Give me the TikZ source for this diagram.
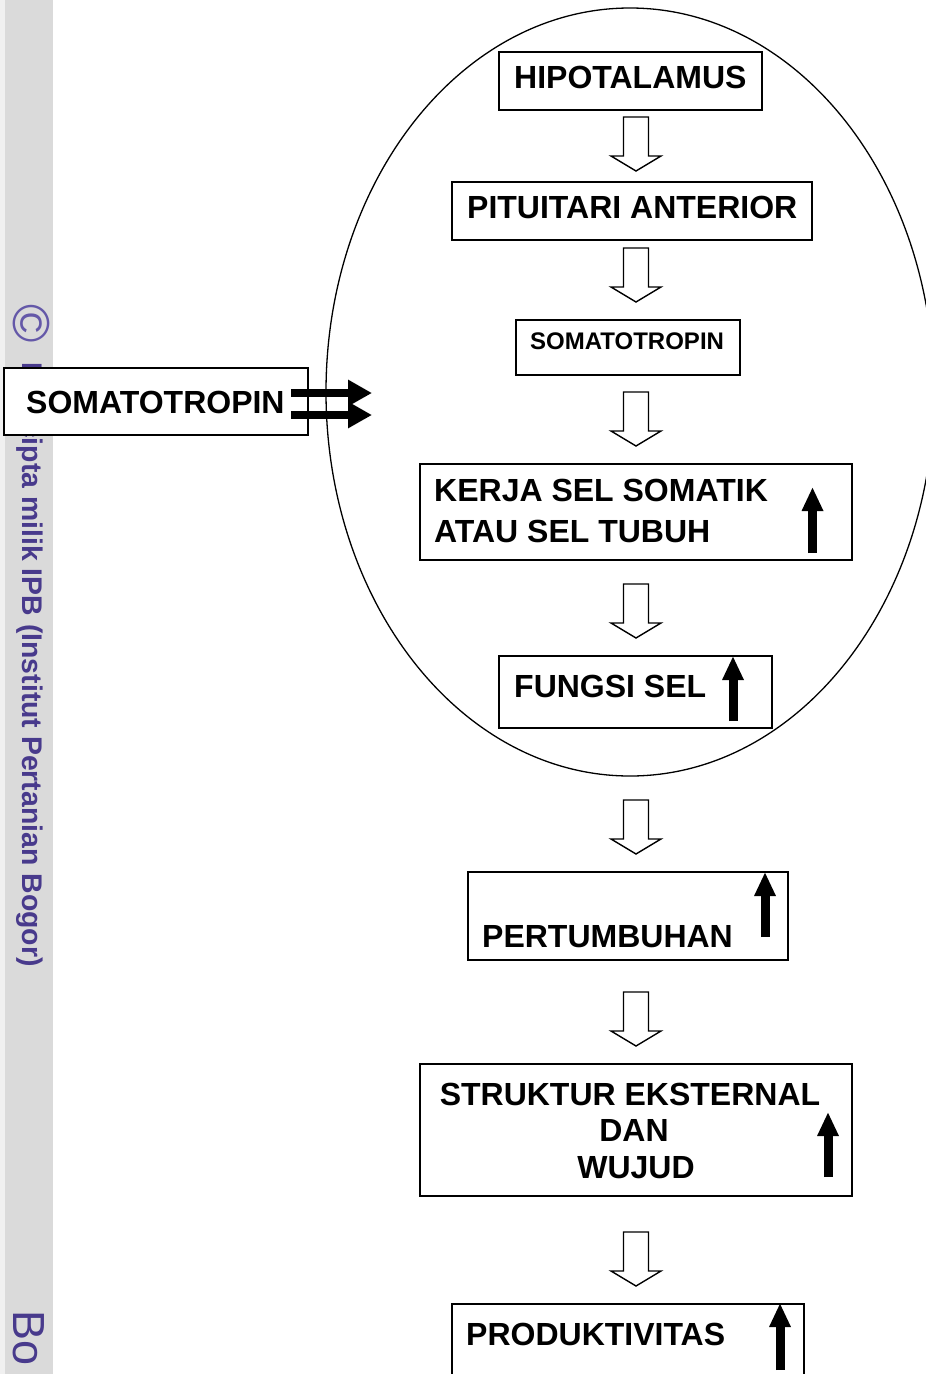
\documentclass[tikz,border=0pt]{standalone}
\usepackage{fontspec}
\setmainfont{Liberation Sans}
\usetikzlibrary{arrows.meta}
\definecolor{ipbpurple}{RGB}{72,58,140}
\definecolor{ipbcopy}{RGB}{100,88,168}
\definecolor{sidegray}{RGB}{218,218,218}
\definecolor{sidelight}{RGB}{240,240,240}
\tikzset{
  blockdown/.pic={\draw[line width=1.4pt,fill=white,line join=miter]
    (-12.5,0) -- (12.5,0) -- (12.5,39) -- (25,39) -- (0,54) -- (-25,39) -- (-12.5,39) -- cycle;}
}
\begin{document}
\begin{tikzpicture}[x=1pt,y=-1pt,
  box/.style={draw,line width=1.5pt,fill=white,inner sep=0pt,rectangle},
  big/.style={font=\bfseries\fontsize{32}{38}\selectfont,inner sep=0pt,anchor=base west},
  bigc/.style={font=\bfseries\fontsize{32}{38}\selectfont,inner sep=0pt,anchor=base},
  small/.style={font=\bfseries\fontsize{24}{28}\selectfont,inner sep=0pt,anchor=base west},
  uparrow/.style={line width=9pt,-{Triangle[length=24pt,width=20pt]}},
  rarrow/.style={line width=8pt,-{Triangle[length=24pt,width=25pt]}},
  side/.style={inner sep=0pt,anchor=base west,rotate=-90,text=ipbpurple}
]
\useasboundingbox (0,0) rectangle (926,1374);
% side band
\fill[sidelight] (0,0) rectangle (5,1374);
\fill[sidegray] (5,0) rectangle (53,1374);
\node[side,text=ipbcopy,font=\fontsize{52}{52}\selectfont] (copy) at (13,304) {©};
\node[side,font=\bfseries\fontsize{28.4}{30}\selectfont] (hak) at (23,362) {Hak cipta milik IPB (Institut Pertanian Bogor)};
\node[side,font=\fontsize{45}{45}\selectfont] (bo) at (13,1310) {Bo};
% ellipse
\draw[line width=1.3pt] (630,392) ellipse [x radius=304, y radius=384];
% boxes
\node[box,minimum width=263pt,minimum height=58pt] (hipo) at (630.5,81) {};
\node[box,minimum width=360pt,minimum height=58pt] (pitu) at (632,211) {};
\node[box,minimum width=224pt,minimum height=55pt] (soma) at (628,347.5) {};
\node[box,minimum width=304pt,minimum height=67pt] (somaL) at (156,401.5) {};
\node[box,minimum width=432pt,minimum height=96pt] (kerja) at (636,512) {};
\node[box,minimum width=273pt,minimum height=72pt] (fungsi) at (635.5,692) {};
\node[box,minimum width=320pt,minimum height=88pt] (pert) at (628,916) {};
\node[box,minimum width=432pt,minimum height=132pt] (strukt) at (636,1130) {};
\node[box,minimum width=352pt,minimum height=76pt] (prod) at (628,1342) {};
% texts
\node[big] (t1) at (514,88) {HIPOTALAMUS};
\node[big] (t2) at (467,218) {PITUITARI ANTERIOR};
\node[small] (t3) at (530,349.5) {SOMATOTROPIN};
\node[big] (t4) at (26,413) {SOMATOTROPIN};
\node[big] (t5a) at (434,501) {KERJA SEL SOMATIK};
\node[big] (t5b) at (434,542) {ATAU SEL TUBUH};
\node[big] (t6) at (514,697) {FUNGSI SEL};
\node[big] (t7) at (482,947) {PERTUMBUHAN};
\node[bigc] (t8a) at (630,1105) {STRUKTUR EKSTERNAL};
\node[bigc] (t8b) at (634,1141) {DAN};
\node[bigc] (t8c) at (636,1178) {WUJUD};
\node[big] (t9) at (466,1345) {PRODUKTIVITAS};
% block arrows
\pic at (636,117) {blockdown};
\pic at (636,248) {blockdown};
\pic at (636,392) {blockdown};
\pic at (636,584) {blockdown};
\pic at (636,800) {blockdown};
\pic at (636,992) {blockdown};
\pic at (636,1232) {blockdown};
% up arrows
\draw[uparrow] (812.5,553) -- (812.5,487);
\draw[uparrow] (733,721) -- (733,656);
\draw[uparrow] (765,937) -- (765,872);
\draw[uparrow] (828,1177) -- (828,1112);
\draw[uparrow] (780,1370) -- (780,1303);
% left double arrows
\draw[rarrow] (291,393) -- (372,393);
\draw[rarrow] (291,415) -- (372,415);
\end{tikzpicture}
\end{document}
